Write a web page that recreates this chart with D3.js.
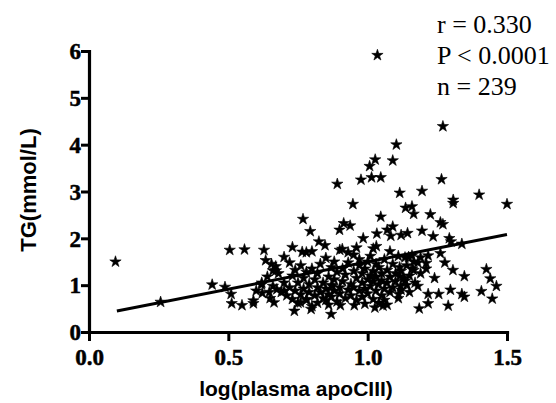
<!DOCTYPE html>
<html><head><meta charset="utf-8">
<script src="https://cdn.jsdelivr.net/npm/d3@7"></script>
<style>body{margin:0;background:#fff}svg{display:block}</style>
</head><body>
<svg id="chart" width="556" height="403"></svg>
<script>
const xTicks = [0, 0.5, 1.0, 1.5];
const xTickLabels = ["0.0", "0.5", "1.0", "1.5"];
const yTicks = [0, 1, 2, 3, 4, 5, 6];
const statsLines = ["r = 0.330", "P < 0.0001", "n = 239"];
const xTitle = "log(plasma apoCIII)";
const yTitle = "TG(mmol/L)";
const fitX = [0.1, 1.5];
const fitY = [0.45, 2.08];
const ptsX = [
0.095,0.257,0.442,0.488,0.505,0.558,0.51,0.512,0.549,0.59,0.59,0.628,0.634,0.619,0.622,0.647,0.664,0.655,0.66,0.671,
0.674,0.70,0.73,0.768,0.794,0.765,0.80,0.737,0.759,0.825,0.847,0.891,0.947,0.914,0.937,0.899,0.909,0.984,0.976,1.007,
1.027,1.014,1.047,1.035,1.047,1.033,1.031,1.103,1.09,1.115,1.09,1.07,1.083,1.12,1.143,1.136,1.159,1.165,1.195,1.195,
1.225,1.235,1.265,1.27,1.261,1.27,1.293,1.307,1.307,1.40,1.50,1.299,1.338,1.261,1.277,1.306,1.347,1.426,1.44,1.462,
1.408,1.447,1.338,1.347,1.297,1.289,1.255,1.217,1.217,1.185,1.18,1.21,1.19,1.165,1.165,1.159,1.217,1.134,1.147,1.115,
1.115,1.118,1.111,1.134,1.026,1.055,0.952,0.902,0.869,0.797,0.781,0.873,
0.68,0.70,0.71,0.72,0.73,0.73,0.74,0.74,0.75,0.75,
0.76,0.76,0.77,0.77,0.78,0.78,0.78,0.79,0.79,0.80,
0.80,0.81,0.81,0.82,0.82,0.82,0.83,0.83,0.84,0.84,
0.85,0.85,0.85,0.86,0.86,0.87,0.87,0.87,0.88,0.88,
0.88,0.89,0.89,0.90,0.90,0.90,0.91,0.91,0.92,0.92,
0.93,0.93,0.94,0.94,0.95,0.95,0.95,0.96,0.96,0.97,
0.97,0.97,0.98,0.98,0.98,0.99,0.99,1.00,1.00,1.00,
1.01,1.01,1.01,1.02,1.02,1.02,1.03,1.03,1.03,1.04,
1.04,1.04,1.05,1.05,1.05,1.06,1.06,1.06,1.07,1.07,
1.08,1.08,1.08,1.09,1.09,1.10,1.10,1.11,1.11,1.12,
1.12,1.13,1.14,1.14,1.15,1.15,1.16,1.17,1.18,1.19,
0.66,0.67,0.69,0.64,0.62,0.60,0.65,0.70,0.72,0.96,
1.02,0.93,1.07,0.99,0.86,1.21,1.24
];
const ptsY = [
1.50,0.64,1.01,0.96,1.75,1.76,0.81,0.61,0.57,0.67,0.61,1.75,1.53,1.01,0.83,0.85,0.63,1.45,1.31,1.31,
0.91,0.88,1.81,2.41,2.15,1.71,1.72,0.45,0.63,1.93,1.85,3.16,2.73,2.32,2.27,2.18,1.77,2.00,3.25,3.54,
3.68,3.30,3.30,5.91,2.46,2.10,1.83,4.00,3.66,2.97,2.25,2.18,2.05,2.07,2.11,2.65,2.68,2.52,3.01,2.16,
2.51,2.04,3.26,4.39,2.34,2.30,2.00,2.82,2.75,2.93,2.73,1.93,1.88,1.68,1.48,1.32,1.19,1.34,1.14,0.98,
0.87,0.71,0.81,0.75,0.90,0.56,0.81,0.81,0.61,0.50,0.98,1.47,1.59,1.50,1.32,1.63,1.63,1.59,1.60,1.38,
1.19,0.98,0.81,1.09,0.52,0.56,0.57,0.57,0.38,0.49,0.70,0.98,
1.25,1.05,0.78,0.95,1.20,0.70,1.32,0.88,1.05,0.62,
1.42,0.80,1.15,0.92,1.70,1.28,0.68,1.02,0.85,1.35,
0.55,1.12,0.78,0.95,1.25,0.62,1.45,0.85,1.05,0.72,
1.58,0.92,0.68,1.18,0.80,1.38,1.00,0.75,1.50,0.88,
1.12,0.65,1.28,0.95,1.75,0.82,1.35,1.08,0.72,1.22,
0.90,1.48,1.02,0.78,1.30,1.65,0.95,1.15,0.68,1.42,
0.88,1.55,1.05,1.25,0.75,1.35,0.92,1.50,1.12,0.82,
1.20,1.62,0.98,1.30,0.70,1.08,1.45,0.88,1.18,1.02,
0.62,1.38,0.78,1.25,1.10,0.92,1.55,0.68,1.32,1.05,
0.85,1.72,1.18,0.95,1.45,1.25,1.08,0.72,1.62,1.30,
0.90,1.15,1.42,1.00,1.20,0.85,1.35,1.05,1.48,1.25,
0.98,1.40,0.85,1.18,1.05,0.88,0.72,1.60,1.48,1.80,
1.78,1.70,0.58,0.60,0.58,1.35,1.15
];

const svg = d3.select("#chart");
const x = d3.scaleLinear().domain([0, 1.5]).range([89, 507]);
const y = d3.scaleLinear().domain([0, 6]).range([332, 51]);

// axes
const gx = svg.append("g").attr("transform", "translate(0,332)")
  .call(d3.axisBottom(x).tickValues(xTicks).tickFormat((d, i) => xTickLabels[i]).tickSize(9).tickSizeOuter(0));
const gy = svg.append("g").attr("transform", "translate(89,0)")
  .call(d3.axisLeft(y).tickValues(yTicks).tickFormat(d3.format("d")).tickSize(8).tickSizeOuter(0));
[gx, gy].forEach(g => {
  g.select(".domain").attr("stroke", "#000").attr("stroke-width", 3.2).attr("stroke-linecap", "square");
  g.selectAll(".tick line").attr("stroke", "#000").attr("stroke-width", 3);
  g.selectAll(".tick text").attr("fill", "#000")
    .attr("stroke", "#000").attr("stroke-width", 0.5)
    .style("font-family", "'Liberation Serif','Times New Roman',serif")
    .style("font-weight", "bold").style("font-size", "23px");
});
gx.selectAll(".tick text").attr("y", 33).attr("dy", 0);
gy.selectAll(".tick text").attr("x", -8).attr("dy", "0.34em");

// titles
svg.append("text").attr("x", 296).attr("y", 396).attr("text-anchor", "middle")
  .style("font-family", "'Liberation Sans',Arial,sans-serif").style("font-weight", "bold").style("font-size", "21px")
  .text(xTitle);
svg.append("text").attr("transform", "translate(36,190) rotate(-90)").attr("text-anchor", "middle")
  .style("font-family", "'Liberation Sans',Arial,sans-serif").style("font-weight", "bold").style("font-size", "22px")
  .text(yTitle);

// fit line
svg.append("line")
  .attr("x1", x(fitX[0])).attr("y1", y(fitY[0]))
  .attr("x2", x(fitX[1])).attr("y2", y(fitY[1]))
  .attr("stroke", "#000").attr("stroke-width", 3);

// points
const star = d3.symbol().type(d3.symbolStar).size(40);
svg.append("g").selectAll("path").data(d3.range(ptsX.length)).join("path")
  .attr("d", star)
  .attr("transform", i => `translate(${x(ptsX[i])},${y(ptsY[i])})`)
  .attr("fill", "#000").attr("stroke", "#000").attr("stroke-width", 0.6);

// stats
svg.append("g").selectAll("text").data(statsLines).join("text")
  .attr("x", 437).attr("y", (d, i) => 33 + i * 31)
  .style("font-family", "'Liberation Serif','Times New Roman',serif").style("font-size", "26px")
  .text(d => d);
</script>
</body></html>
